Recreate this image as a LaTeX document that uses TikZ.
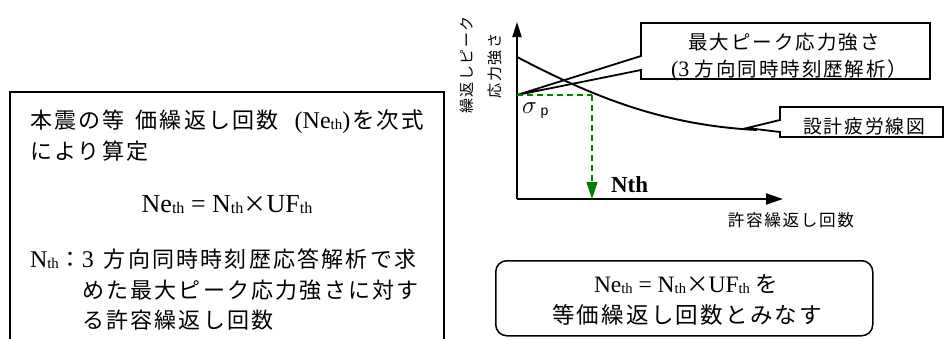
\documentclass[tikz,border=0pt]{standalone}
\usepackage{fontspec}
\usepackage{graphicx}
\setmainfont{Liberation Serif}
\newfontfamily\cjk[LetterSpace=10]{Noto Sans CJK JP}
\newfontfamily\lsans{Liberation Sans}
\usetikzlibrary{arrows.meta}
\definecolor{ggreen}{RGB}{0,128,0}
\newcommand\fs[1]{\fontsize{#1}{#1}\selectfont}
\newcommand\tsub{\raisebox{-1.2pt}{\scalebox{0.62}{th}}}
\begin{document}
\begin{tikzpicture}[x=1pt,y=-1pt,
  txt/.style={inner sep=0pt,outer sep=0pt},
  frame/.style={draw=black,line width=1.5pt},
  thickline/.style={line width=1.9pt},
  gr/.style={draw=ggreen,line width=1.6pt,dash pattern=on 6pt off 4pt}]
\useasboundingbox (0,0) rectangle (944,338);

% left box (open at the bottom, cut by the page)
\coordinate (lb1) at (10,342);
\coordinate (lb2) at (10,92);
\coordinate (lb3) at (444,92);
\coordinate (lb4) at (444,342);
\draw[frame] (lb1) -- (lb2) -- (lb3) -- (lb4);

\node[txt, anchor=base west, font=\fs{24}] (l1) at (30,128)
  {{\fs{22}\cjk 本震の等\hspace{4pt} 価繰返し回数}\hspace{16pt}(Ne\tsub)\hspace{2pt}{\fs{22.5}\cjk を次式}};
\node[txt, anchor=base west, font=\fs{22}\cjk] (l2) at (30,159) {により算定};
\node[txt, anchor=base, font=\fs{26}] (l3) at (227,212)
  {Ne\tsub{} = N\tsub{\fs{23}\cjk ×}UF\tsub};
\node[txt, anchor=base west, font=\fs{24}] (l4) at (30,267)
  {N\tsub\hspace{1pt}{\fs{22}\cjk ：}3\hspace{10pt}{\fs{22}\cjk 方向同時時刻歴応答解析で求}};
\node[txt, anchor=base west, font=\fs{22}\cjk] (l5) at (82,298) {めた最大ピーク応力強さに対す};
\node[txt, anchor=base west, font=\fs{22}\cjk] (l6) at (82,328) {る許容繰返し回数};

% axes
\coordinate (O) at (517,199);
\coordinate (Ytop) at (517,22);
\coordinate (Xend) at (783,199);
\draw[thickline,-{Triangle[length=15pt,width=9pt]}] (O) -- (Ytop);
\draw[thickline,-{Triangle[length=17pt,width=11pt]}] (O) -- (Xend);

% y label
\node[txt, rotate=90, font=\fs{15}\cjk] (yl1) at (467,65) {繰返しピーク};
\node[txt, rotate=90, font=\fs{15}\cjk] (yl2) at (495,66) {応力強さ};

% callout 1
\coordinate (t1) at (517,95);
\draw[frame,line width=1.8pt] (641,56) -- (641,23) -- (930,23) -- (930,79) -- (641,79) -- (641,70) -- (t1) -- cycle;
\node[txt, anchor=base, font=\fs{19.5}\cjk] (b1a) at (784,49) {最大ピーク応力強さ};
\node[txt, anchor=base west, font=\fs{22}] (b1b) at (671,76) {(3 {\fs{19.5}\cjk 方向同時時刻歴解析）}};

% callout 2
\coordinate (t2) at (747,128);
\draw[frame,line width=1.8pt] (780,120) -- (780,107) -- (943,107) -- (943,137) -- (780,137) -- (780,132) -- (t2) -- cycle;
\node[txt, anchor=base west, font=\fs{18.8}\cjk] (b2) at (803,133) {設計疲労線図};

% fatigue curve
\coordinate (c0) at (517,57);
\coordinate (c3) at (757,130);
\draw[thickline] (c0) .. controls (590,95) and (660,125) .. (c3);

% green dashed guide
\coordinate (g1) at (592,95);
\coordinate (g2) at (592,199);
\draw[gr] (t1) -- (g1);
\draw[gr,-{Triangle[length=17pt,width=11pt]}] (g1) -- (g2);

% sigma_p
\node[txt, anchor=base west] (sig) at (522,113)
  {\fs{26}$\sigma$\hspace{4pt}\raisebox{-2pt}{\lsans\fs{14}p}};
% Nth
\node[txt, anchor=base west, font=\bfseries\fs{23}] (nth) at (611,192) {Nth};
% x label
\node[txt, anchor=base, font=\fs{16.6}\cjk] (xl) at (791,226) {許容繰返し回数};

% bottom rounded box
\node[draw, line width=1.5pt, rounded corners=11pt, minimum width=377pt, minimum height=75pt,
      inner sep=0pt, anchor=north west] (bb) at (495,260) {};
\node[txt, anchor=base west, font=\fs{23.5}] (bt1) at (594,292)
  {Ne\tsub{} = N\tsub{\fs{22.5}\cjk ×}UF\tsub{} {\fs{22.5}\cjk を}};
\node[txt, anchor=base west, font=\fs{22.5}\cjk] (bt2) at (552,323) {等価繰返し回数とみなす};
\end{tikzpicture}
\end{document}
